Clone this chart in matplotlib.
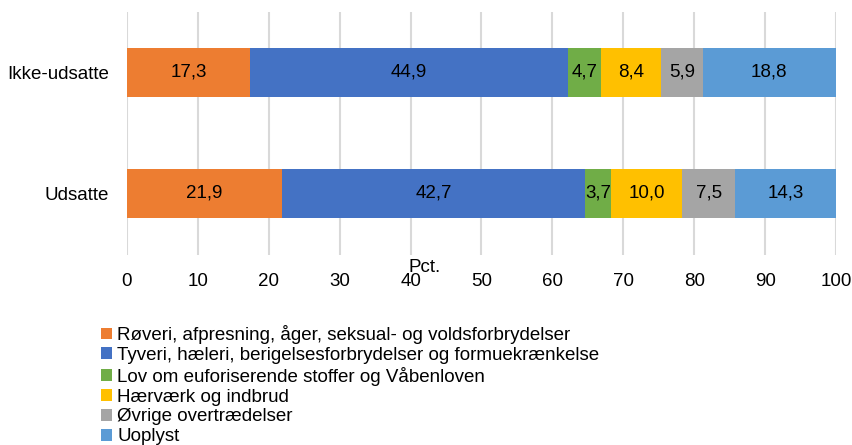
import numpy as np
import matplotlib
matplotlib.use("Agg")
from matplotlib import pyplot as plt
from matplotlib import patches as pth

plt.rcParams['font.family'] = ['Liberation Sans', 'DejaVu Sans']

# data
groups = ['Udsatte', 'Ikke-udsatte']
categories = ['Røveri, afpresning, åger, seksual- og voldsforbrydelser',
              'Tyveri, hæleri, berigelsesforbrydelser og formuekrænkelse',
              'Lov om euforiserende stoffer og Våbenloven',
              'Hærværk og indbrud',
              'Øvrige overtrædelser',
              'Uoplyst']
udsatte = [21.9, 42.7, 3.7, 10.0, 7.5, 14.3]
ikke_udsatte = [17.3, 44.9, 4.7, 8.4, 5.9, 18.8]
colors = ['#ED7D31', '#4472C4', '#70AD47', '#FFC000', '#A5A5A5', '#5B9BD5']
xticks = list(range(0, 101, 10))

FS = 13.5

fig = plt.figure(figsize=(8.53, 4.45), dpi=100)
ax = fig.add_axes([127/853, 1-255/445, (836-127)/853, 243/445])

values = np.array([udsatte, ikke_udsatte])
y = np.arange(len(groups))
left = np.zeros(len(groups))
for i, (cat, c) in enumerate(zip(categories, colors)):
    v = values[:, i]
    ax.barh(y, v, left=left, height=0.405, color=c, label=cat, zorder=3)
    for yy, l, w in zip(y, left, v):
        ax.text(l + w/2, yy, ('%.1f' % w).replace('.', ','), ha='center', va='center',
                fontsize=FS, color='#000000', zorder=4)
    left += v

ax.set_xlim(0, 100)
ax.set_ylim(-0.51, 1.5)
ax.set_xticks(xticks)
ax.set_xticklabels([str(t) for t in xticks], fontsize=FS)
ax.set_yticks(y)
ax.set_yticklabels(groups, fontsize=FS)
ax.tick_params(axis='x', length=0, pad=13)
ax.tick_params(axis='y', length=0, pad=13)
ax.xaxis.grid(True, color='#D9D9D9', linewidth=1.5, zorder=0)
for s in ax.spines.values():
    s.set_visible(False)

fig.text(425/853, 1-268/445, 'Pct.', ha='center', va='center', fontsize=FS)

h, l = ax.get_legend_handles_labels()
fig.legend(h, l, loc='upper left', bbox_to_anchor=(88/853, 1-312/445), frameon=False,
           fontsize=FS, handlelength=0.6, handleheight=0.6, handletextpad=0.25,
           labelspacing=0.15, borderpad=0.2)

fig.savefig('out.png', dpi=100)
